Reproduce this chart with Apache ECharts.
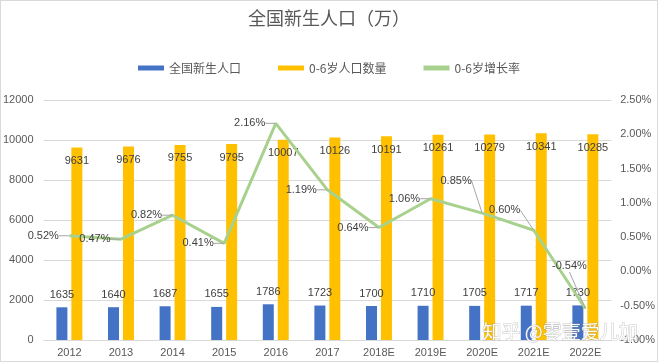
<!DOCTYPE html>
<html><head><meta charset="utf-8">
<script src="https://cdn.jsdelivr.net/npm/echarts@6/dist/echarts.min.js"></script>
<style>
html,body{margin:0;padding:0;background:#fff;}
#wrap{position:relative;width:658px;height:362px;}
#c{width:658px;height:362px;}
#frame{position:absolute;left:0;top:0;width:658px;height:362px;box-sizing:border-box;border:1px solid #d9d9d9;pointer-events:none;}
</style></head>
<body><div id="wrap"><div id="c"></div><div id="frame"></div></div>
<script>
var categories = ['2012','2013','2014','2015','2016','2017','2018E','2019E','2020E','2021E','2022E'];
var births = [1635,1640,1687,1655,1786,1723,1700,1710,1705,1717,1730];
var pop06 = [9631,9676,9755,9795,10007,10126,10191,10261,10279,10341,10285];
var growth = [0.52,0.47,0.82,0.41,2.16,1.19,0.64,1.06,0.85,0.60,-0.54];
var seriesNames = ['全国新生人口','0-6岁人口数量','0-6岁增长率'];

var FONT = "'Liberation Sans', 'Noto Sans CJK SC', sans-serif";
var labelMoves = {8:[0,-32], 9:[-3,-20], 10:[12,-42]};

var chart = echarts.init(document.getElementById('c'));
chart.setOption({
  animation:false,
  textStyle:{fontFamily:FONT},
  title:{text:'全国新生人口（万）',left:'center',top:9,padding:0,
    textStyle:{fontSize:18,fontWeight:'normal',color:'#595959',fontFamily:"'Noto Sans CJK SC', sans-serif"}},
  legend:{top:57,left:'center',itemWidth:26,itemHeight:5,itemGap:37,
    textStyle:{fontSize:12,color:'#595959',fontFamily:"'Noto Sans CJK SC', sans-serif"},
    data:[{name:seriesNames[0],icon:'rect'},{name:seriesNames[1],icon:'rect'},{name:seriesNames[2],icon:'rect'}]},
  grid:{left:43,right:45,top:100,bottom:22,containLabel:false},
  xAxis:{type:'category',data:categories,
    axisLine:{lineStyle:{color:'#d9d9d9'}},axisTick:{show:false},
    axisLabel:{color:'#595959',fontSize:11,margin:7,fontFamily:FONT}},
  yAxis:[
    {type:'value',min:0,max:12000,interval:2000,
     axisLine:{show:false},axisTick:{show:false},
     splitLine:{lineStyle:{color:'#d9d9d9'}},
     axisLabel:{color:'#595959',fontSize:11,margin:10,fontFamily:FONT,
       formatter:function(v){return String(v);}}},
    {type:'value',min:-1,max:2.5,interval:0.5,position:'right',
     axisLine:{show:false},axisTick:{show:false},splitLine:{show:false},
     axisLabel:{color:'#595959',fontSize:11,margin:9,fontFamily:FONT,
       formatter:function(v){return v.toFixed(2)+'%';}}}
  ],
  series:[
    {name:seriesNames[0],type:'bar',data:births,barWidth:11,barGap:'36%',
     itemStyle:{color:'#4472C4'},
     label:{show:true,position:'top',distance:7,color:'#404040',fontSize:11,fontFamily:FONT}},
    {name:seriesNames[1],type:'bar',data:pop06,barWidth:11,barGap:'36%',
     itemStyle:{color:'#FFC000'},
     label:{show:true,position:'insideTop',distance:8,color:'#404040',fontSize:11,fontFamily:FONT}},
    {name:seriesNames[2],type:'line',yAxisIndex:1,data:growth,
     symbol:'circle',symbolSize:1,showSymbol:true,
     lineStyle:{color:'#A9D18E',width:3},itemStyle:{color:'#A9D18E'},
     label:{show:true,position:'left',distance:10,color:'#404040',fontSize:11,fontFamily:FONT,
       formatter:function(p){return p.value.toFixed(2)+'%';}},
     labelLine:{show:true,lineStyle:{color:'#a6a6a6',width:1}},
     labelLayout:function(p){var m=labelMoves[p.dataIndex];return m?{dx:m[0],dy:m[1]}:{};},
     z:3}
  ],
  graphic:[{type:'text',left:482,top:322,z:100,silent:true,
    style:{text:'知乎 @零壹爱儿加',fontSize:19,fontFamily:"'Noto Sans CJK SC', sans-serif",
      fill:'rgba(255,255,255,0.95)',stroke:'rgba(150,150,150,0.5)',lineWidth:1}}]
});
</script></body></html>
